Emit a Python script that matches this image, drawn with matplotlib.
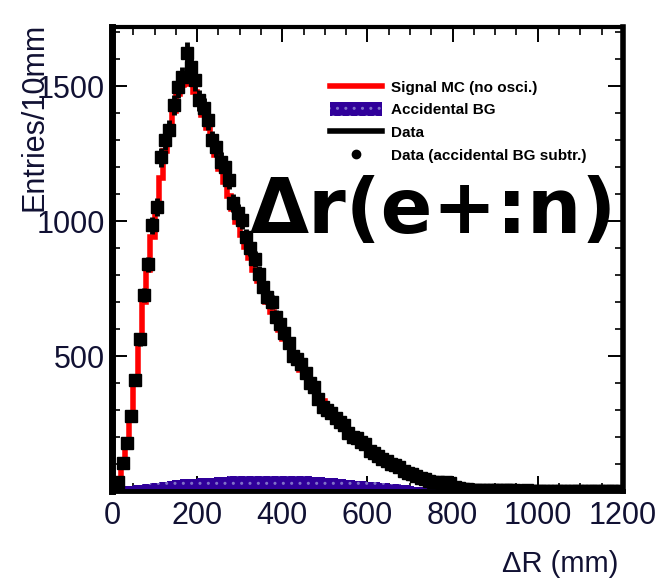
import numpy as np
import matplotlib
matplotlib.use("Agg")
import matplotlib.pyplot as plt
from matplotlib.lines import Line2D
from matplotlib.patches import Patch

# 10 mm bins from 0 to 1200 mm
edges = np.arange(0, 1210, 10)
centers = edges[:-1] + 5

# data, accidental BG subtracted (entries / 10 mm)
data = [8, 33, 104, 178, 278, 411, 563, 726, 840, 985,
        1052, 1237, 1300, 1337, 1430, 1496, 1533, 1625, 1570, 1522,
        1448, 1420, 1374, 1300, 1274, 1220, 1200, 1152, 1067, 1030,
        1004, 941, 900, 860, 805, 755, 720, 700, 644, 620,
        585, 548, 500, 490, 470, 437, 400, 385, 340, 311,
        300, 290, 270, 255, 245, 215, 200, 195, 180, 175,
        150, 140, 128, 118, 112, 100, 95, 88, 75, 68,
        62, 55, 48, 44, 38, 33, 32, 30, 32, 28,
        15, 12, 8, 6, 5, 4, 4, 3, 3, 3,
        2, 3, 2, 2, 3, 1, 1, 2, 1, 1,
        1, 0, 1, 0, 0, 1, 0, 0, 1, 0,
        0, 0, 0, 0, 1, 0, 0, 0, 0, 0]

# signal MC (no oscillation)
signal_mc = [5, 30, 95, 180, 290, 420, 560, 700, 820, 940,
             1050, 1160, 1260, 1340, 1410, 1470, 1505, 1520, 1510, 1480,
             1440, 1395, 1345, 1295, 1245, 1195, 1145, 1095, 1045, 998,
             950, 905, 862, 820, 780, 740, 702, 665, 630, 597,
             565, 535, 505, 477, 450, 424, 400, 376, 353, 332,
             312, 293, 275, 257, 240, 224, 209, 195, 181, 168,
             155, 143, 132, 121, 111, 101, 92, 83, 75, 67,
             60, 53, 47, 41, 36, 31, 26, 22, 18, 15,
             12, 9, 7, 5, 4, 3, 2, 2, 1, 1,
             1, 1, 1, 0, 1, 0, 0, 0, 0, 0,
             0, 0, 0, 0, 0, 0, 0, 0, 0, 0,
             0, 0, 0, 0, 0, 0, 0, 0, 0, 0]

# accidental background
acc_bg = [2, 9, 14, 17, 19, 21, 23, 25, 27, 29,
          31, 33, 35, 37, 39, 41, 43, 44, 45, 46,
          47, 48, 49, 50, 51, 52, 53, 54, 55, 56,
          56, 56, 57, 57, 57, 57, 57, 57, 57, 56,
          56, 56, 55, 55, 55, 54, 54, 53, 53, 52,
          50, 49, 47, 46, 44, 42, 40, 38, 37, 36,
          34, 33, 32, 30, 29, 27, 26, 25, 24, 22,
          17, 15, 13, 12, 9, 7, 6, 5, 3, 2,
          0, 0, 0, 0, 0, 0, 0, 0, 0, 0,
          0, 0, 0, 0, 0, 0, 0, 0, 0, 0,
          0, 0, 0, 0, 0, 0, 0, 0, 0, 0,
          0, 0, 0, 0, 0, 0, 0, 0, 0, 0]

plt.rcParams['font.family'] = ['Liberation Sans', 'DejaVu Sans']
plt.rcParams['hatch.linewidth'] = 1.0

fig = plt.figure(figsize=(6.57, 5.85), dpi=100)
ax = fig.add_axes([0.1705, 0.1607, 0.7775, 0.7931])

bg_color = "#30009a"
ax.stairs(acc_bg, edges, fill=True, facecolor=bg_color, edgecolor="#8070c8",
          hatch="..", linewidth=0, zorder=2)
ax.stairs(signal_mc, edges, color="red", linewidth=4, zorder=3)
data = np.array(data)
ax.errorbar(centers, data, yerr=np.sqrt(data), fmt="s", color="black",
            ms=8, elinewidth=3.5, capsize=0, zorder=4)

ax.set_xlim(0, 1200)
ax.set_ylim(0, 1720)
ax.set_xticks([0, 200, 400, 600, 800, 1000, 1200])
ax.set_yticks([500, 1000, 1500])
ax.set_xticks(np.arange(0, 1201, 50), minor=True)
ax.set_yticks(np.arange(0, 1701, 100), minor=True)
ax.tick_params(which="both", direction="in", top=True, right=True,
               labelsize=22, colors="black")
ax.tick_params(which="major", length=11, width=1.4)
ax.tick_params(which="minor", length=6, width=1.2)
ax.tick_params(axis="x", pad=7)
ax.tick_params(axis="y", pad=5)
for lab in ax.get_xticklabels() + ax.get_yticklabels():
    lab.set_color("#111133")
for side, lw in zip(["left", "right", "top", "bottom"], [5, 4, 3, 3.5]):
    ax.spines[side].set_linewidth(lw)

fig.text(35 / 657, 0.80, "Entries/10mm", rotation=90, fontsize=22,
         ha="center", va="center", color="#111133")
fig.text(0.852, 0.036, "ΔR (mm)", fontsize=21, ha="center", va="center",
         color="#111133")
fig.text(250 / 657, 1 - 233 / 585, "Δr(e+:n)", fontsize=55,
         fontweight="bold", family="DejaVu Sans", ha="left", va="baseline")

handles = [
    Line2D([], [], color="red", lw=4),
    Patch(facecolor=bg_color, edgecolor="#8070c8", hatch="..", lw=0),
    Line2D([], [], color="black", lw=4),
    Line2D([], [], color="black", marker="o", ms=6, lw=0),
]
labels = ["Signal MC (no osci.)", "Accidental BG", "Data",
          "Data (accidental BG subtr.)"]
ax.legend(handles, labels, loc="upper left",
          bbox_to_anchor=(322 / 657, 1 - 72 / 585),
          bbox_transform=fig.transFigure, frameon=False, borderpad=0,
          handlelength=3.4, handleheight=1.0, labelspacing=0.5,
          handletextpad=0.6, prop={"size": 11, "weight": "bold"})

fig.savefig("out.png", dpi=100)
